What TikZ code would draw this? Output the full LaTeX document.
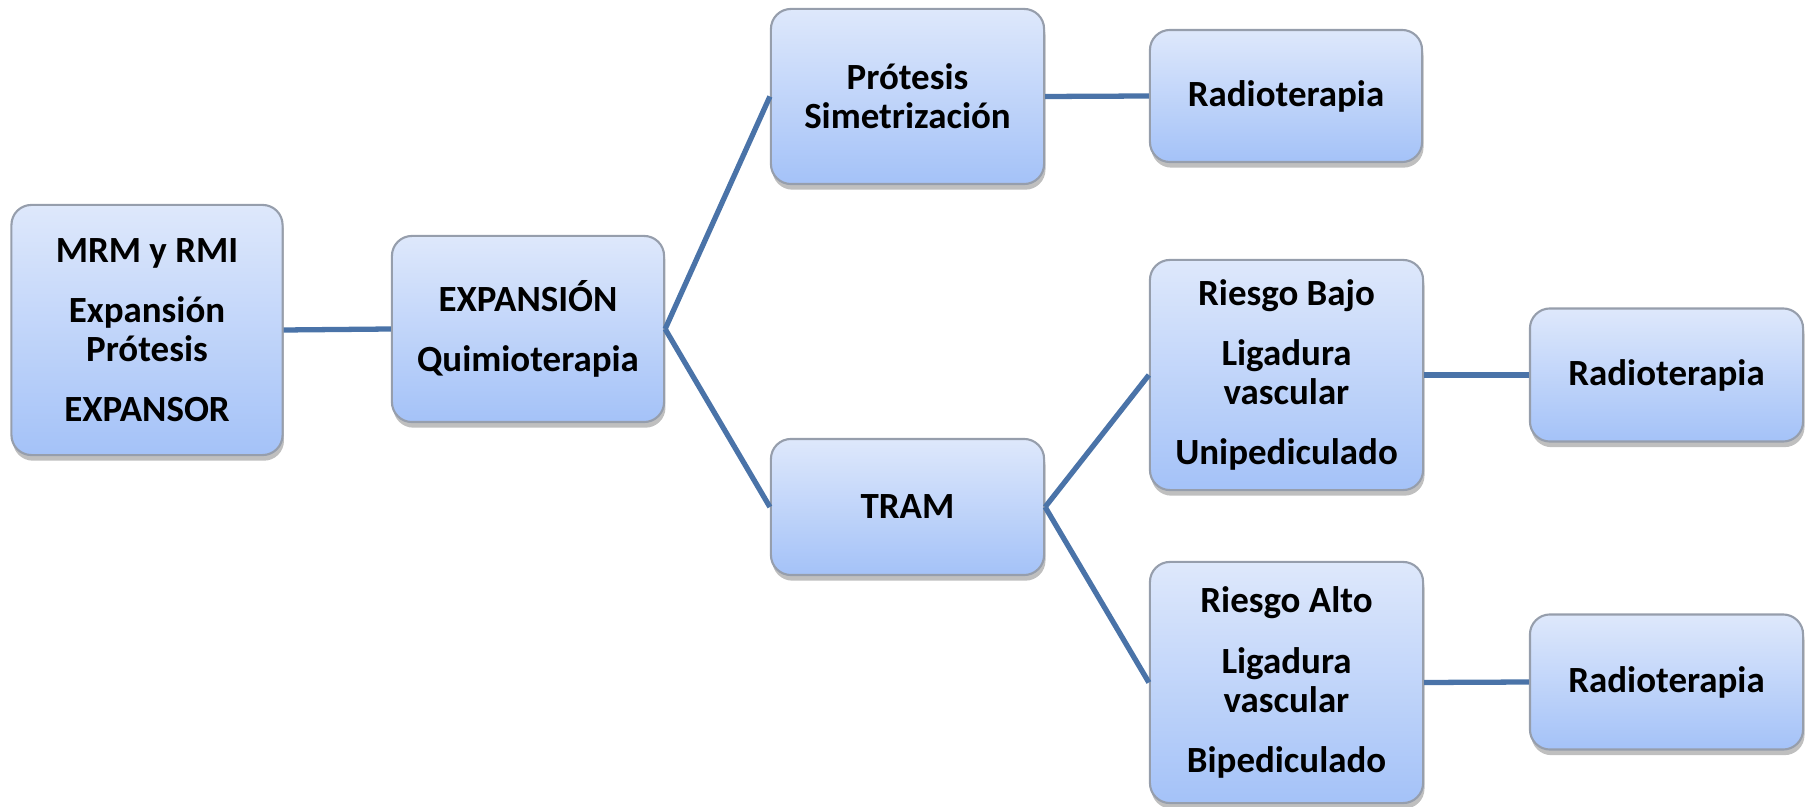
\documentclass[tikz,border=0pt]{standalone}
\usepackage{fontspec}
\setmainfont{Carlito}
\usetikzlibrary{shadows}
\definecolor{boxtop}{RGB}{222,232,251}
\definecolor{boxbot}{RGB}{164,194,248}
\definecolor{boxedge}{RGB}{150,158,172}
\definecolor{linkc}{RGB}{74,115,168}
\tikzset{
  box/.style={rectangle, rounded corners=0.2cm, draw=boxedge, line width=0.6pt,
    top color=boxtop, bottom color=boxbot, align=center, inner sep=2pt,
    font=\fontsize{10.5}{11.1}\selectfont\bfseries,
    drop shadow={shadow xshift=0.4pt, shadow yshift=-1.6pt, fill=black, opacity=0.25}},
  link/.style={draw=linkc, line width=1.5pt}
}
\begin{document}
\begin{tikzpicture}[x=0.01cm,y=-0.01cm]
\useasboundingbox (0,0) rectangle (1807,807);
\node[box, minimum width=2.71cm, minimum height=2.50cm] (mrm) at (147,330)
  {MRM y RMI\\[6pt]Expansión\\Prótesis\\[6pt]EXPANSOR};
\node[box, minimum width=2.72cm, minimum height=1.86cm] (exp) at (528,329)
  {EXPANSIÓN\\[6pt]Quimioterapia};
\node[box, minimum width=2.73cm, minimum height=1.75cm] (pro) at (907.5,96.5)
  {Prótesis\\Simetrización};
\node[box, minimum width=2.72cm, minimum height=1.32cm] (r1) at (1286,96)
  {Radioterapia};
\node[box, minimum width=2.73cm, minimum height=1.36cm] (tram) at (907.5,507)
  {TRAM};
\node[box, minimum width=2.73cm, minimum height=2.30cm] (rb) at (1286.5,375)
  {Riesgo Bajo\\[6pt]Ligadura\\vascular\\[6pt]Unipediculado};
\node[box, minimum width=2.73cm, minimum height=1.33cm] (r2) at (1666.5,375)
  {Radioterapia};
\node[box, minimum width=2.73cm, minimum height=2.41cm] (ra) at (1286.5,682.5)
  {Riesgo Alto\\[6pt]Ligadura\\vascular\\[6pt]Bipediculado};
\node[box, minimum width=2.73cm, minimum height=1.35cm] (r3) at (1666.5,682)
  {Radioterapia};
\draw[link] (mrm.east) -- (exp.west);
\draw[link] (exp.east) -- (pro.west);
\draw[link] (exp.east) -- (tram.west);
\draw[link] (pro.east) -- (r1.west);
\draw[link] (tram.east) -- (rb.west);
\draw[link] (tram.east) -- (ra.west);
\draw[link] (rb.east) -- (r2.west);
\draw[link] (ra.east) -- (r3.west);
\end{tikzpicture}
\end{document}
